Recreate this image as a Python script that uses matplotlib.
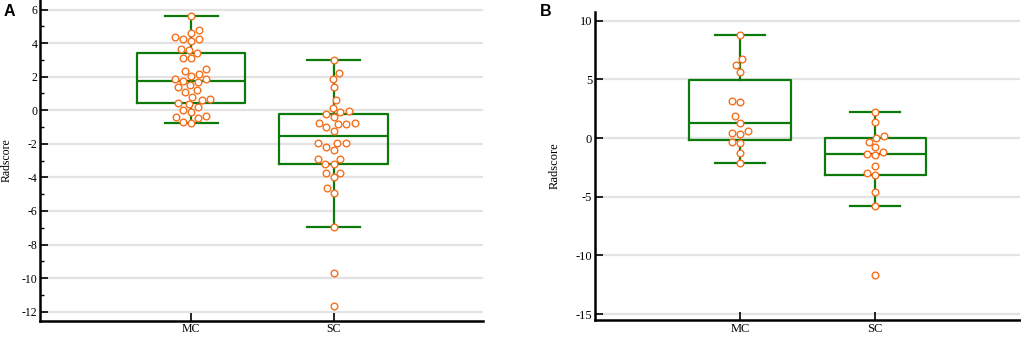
import matplotlib
matplotlib.use("Agg")
import matplotlib.pyplot as plt
import seaborn as sns
import numpy as np
import pandas as pd

# ---- data ----
categories = ["MC", "SC"]

a_mc = [5.61, 4.78, 4.62, 4.10, 4.24, 4.24, 4.34, 3.67, 3.59, 3.43, 3.10, 3.10,
        2.46, 2.34, 2.16, 2.04, 1.86, 1.86, 1.68, 1.76, 1.50, 1.37, 1.20, 1.10,
        0.81, 0.61, 0.69, 0.42, 0.18, 0.36, 0.02, -0.10, -0.38, -0.34, -0.48,
        -0.74, -0.70]
a_sc = [2.98, 2.20, 1.85, 1.37, 0.60, -0.08, -0.02, 0.16, -0.22, -0.38, -0.82,
        -0.82, -0.76, -0.76, -1.23, -1.01, -1.93, -1.93, -1.93, -2.17, -2.36,
        -2.90, -2.90, -3.20, -3.20, -3.75, -3.71, -3.99, -4.64, -4.94, -6.95,
        -9.67, -11.65]
b_mc = [8.75, 6.73, 6.22, 5.60, 3.04, 3.13, 1.85, 1.30, 0.32, 0.40, 0.57,
        -0.40, -0.34, -1.25, -2.16]
b_sc = [2.22, 1.39, 0.03, 0.14, -0.34, -0.77, -1.48, -1.39, -1.22, -2.39,
        -3.13, -3.01, -4.60, -5.80, -11.65]

# box statistics: (whislo, q1, med, q3, whishi)
a_mc_box = [-0.74, 0.42, 1.76, 3.43, 5.61]
a_sc_box = [-6.95, -3.20, -1.55, -0.22, 2.98]
b_mc_box = [-2.13, -0.14, 1.30, 4.97, 8.78]
b_sc_box = [-5.77, -3.13, -1.39, -0.03, 2.24]

a_ticks = list(range(-12, 7, 2))
b_ticks = [-15, -10, -5, 0, 5, 10]

GREEN = "#0b7a0b"
ORANGE = "#f5701c"
GRID = "#e3e3e3"

plt.rcParams["font.family"] = ["Liberation Serif", "DejaVu Serif"]

fig = plt.figure(figsize=(10.21, 3.37), dpi=100)
axA = fig.add_axes([40/1021, 1-320.7/337, (483-40)/1021, 320.7/337])
axB = fig.add_axes([595/1021, 1-320/337, (1020-595)/1021, (320-12)/337])


def panel(ax, mc, sc, boxes, ticks, ylim, xlim, width, fs, minor=None):
    stats = []
    for name, b in zip(categories, boxes):
        stats.append(dict(label=name, whislo=b[0], q1=b[1], med=b[2], q3=b[3],
                          whishi=b[4]))
    ax.bxp(stats, positions=[0, 1], widths=width, capwidths=0.37,
           showfliers=False, patch_artist=False,
           boxprops=dict(color=GREEN, linewidth=1.6),
           medianprops=dict(color=GREEN, linewidth=1.6),
           whiskerprops=dict(color=GREEN, linewidth=1.6),
           capprops=dict(color=GREEN, linewidth=1.6), zorder=2)
    df = pd.DataFrame({"g": ["MC"] * len(mc) + ["SC"] * len(sc),
                       "v": list(mc) + list(sc)})
    sns.swarmplot(data=df, x="g", y="v", order=categories, ax=ax, size=4.8,
                  color="white", edgecolor=ORANGE, linewidth=1.0, zorder=3,
                  native_scale=False)
    ax.set_xlim(*xlim)
    ax.set_ylim(*ylim)
    ax.set_yticks(ticks)
    ax.set_yticklabels([str(t) for t in ticks], fontsize=fs)
    if minor is not None:
        ax.set_yticks(minor, minor=True)
    ax.set_xticks([0, 1])
    ax.set_xticklabels(categories, fontsize=fs)
    ax.set_xlabel("")
    ax.set_ylabel("Radscore", fontsize=fs)
    for t in ticks:
        ax.axhline(t, color=GRID, linewidth=1.6, zorder=0)
    ax.tick_params(axis="both", which="major", direction="in", length=6,
                   width=1.2, pad=2)
    ax.tick_params(axis="y", which="minor", direction="in", length=3, width=1.0)
    for s in ["top", "right"]:
        ax.spines[s].set_visible(False)
    for s in ["left", "bottom"]:
        ax.spines[s].set_linewidth(1.8)
    ax.set_facecolor("none")


panel(axA, a_mc, a_sc, [a_mc_box, a_sc_box], a_ticks, (-12.54, 6.57),
      (-1.0625, 2.05), 0.76, 8.5, minor=list(range(-11, 7, 2)))
axA.yaxis.set_label_coords(-0.061, 0.5)
panel(axB, b_mc, b_sc, [b_mc_box, b_sc_box], b_ticks, (-15.51, 10.74),
      (-1.072, 2.07), 0.75, 9)
axB.yaxis.set_label_coords(-0.08, 0.5)

fig.text(4/1021, 1-11/337, "A", fontsize=11.5, fontweight="bold",
         family=["Liberation Sans", "DejaVu Sans"], va="center", ha="left")
fig.text(540/1021, 1-11/337, "B", fontsize=11.5, fontweight="bold",
         family=["Liberation Sans", "DejaVu Sans"], va="center", ha="left")

fig.savefig("out.png", dpi=100)
